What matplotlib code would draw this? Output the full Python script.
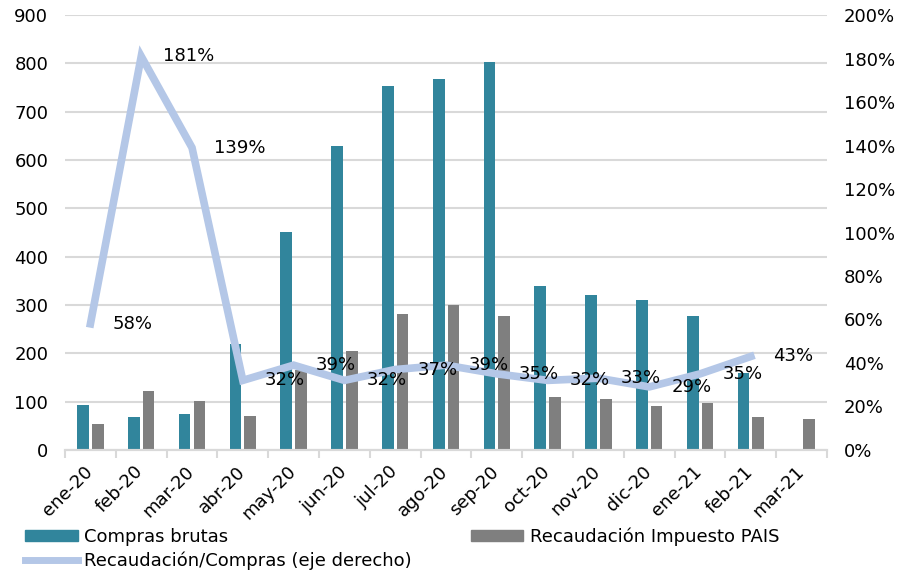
import numpy as np
import matplotlib
matplotlib.use('Agg')
import matplotlib.pyplot as plt
import matplotlib.transforms as mtransforms
from matplotlib.ticker import FuncFormatter, MultipleLocator
from matplotlib.patches import Patch
from matplotlib.lines import Line2D

plt.rcParams['font.family'] = ['DejaVu Sans']

months = ['ene-20', 'feb-20', 'mar-20', 'abr-20', 'may-20', 'jun-20', 'jul-20',
          'ago-20', 'sep-20', 'oct-20', 'nov-20', 'dic-20', 'ene-21', 'feb-21', 'mar-21']
compras = [93, 69, 74, 219, 452, 629, 753, 767, 802, 339, 320, 311, 277, 159, np.nan]
recaudacion = [54, 123, 102, 70, 165, 204, 281, 299, 277, 110, 106, 91, 97, 68, 64]
ratio = [58, 181, 139, 32, 39, 32, 37, 39, 35, 32, 33, 29, 35, 43, np.nan]

c_teal = '#31859C'
c_gray = '#7F7F7F'
c_line = '#B4C7E7'
c_grid = '#D9D9D9'
fs = 13

fig = plt.figure(figsize=(8.98, 5.78), dpi=100)
ax = fig.add_axes([0.0724, 0.2215, 0.8486, 0.7525])
ax2 = ax.twinx()

x = np.arange(len(months))
w = 0.23
ax.bar(x - 0.145, compras, width=w, color=c_teal, zorder=2)
ax.bar(x + 0.145, recaudacion, width=w, color=c_gray, zorder=2)

ax.set_ylim(0, 900)
ax.set_xlim(-0.5, len(months) - 0.5)
ax.yaxis.set_major_locator(MultipleLocator(100))
ax.grid(axis='y', color=c_grid, linewidth=1.5, zorder=0)
ax.set_axisbelow(True)

ax2.plot(x, ratio, color=c_line, linewidth=5.5, solid_joinstyle='miter', zorder=3)
ax2.set_ylim(0, 200)
ax2.yaxis.set_major_locator(MultipleLocator(20))
ax2.yaxis.set_major_formatter(FuncFormatter(lambda v, p: f'{v:.0f}%'))

# etiquetas de datos a la derecha de cada punto
for xi, r in zip(x, ratio):
    if np.isnan(r):
        continue
    ax2.annotate(f'{r:.0f}%', (xi, r), xytext=(16, 0), textcoords='offset points',
                 ha='left', va='center', fontsize=fs, color='black', zorder=4)

for a in (ax, ax2):
    for s in ['top', 'left', 'right']:
        a.spines[s].set_visible(False)
    a.spines['bottom'].set_color(c_grid)
    a.spines['bottom'].set_linewidth(1.5)

ax.tick_params(axis='y', length=0, labelsize=fs, pad=12)
ax2.tick_params(axis='y', length=0, labelsize=fs, pad=12)

ax.set_xticks(x)
ax.set_xticklabels(months, rotation=45, ha='right', rotation_mode='anchor', fontsize=fs)
ax.tick_params(axis='x', which='major', length=0, pad=9)
shift = mtransforms.ScaledTranslation(-7 / 100, 0, fig.dpi_scale_trans)
for lbl in ax.get_xticklabels():
    lbl.set_transform(lbl.get_transform() + shift)
ax.set_xticks(np.arange(-0.5, len(months)), minor=True)
ax.tick_params(axis='x', which='minor', length=6, width=1.5, color=c_grid)

handles = [Patch(color=c_teal), Line2D([], [], color=c_line, linewidth=5),
           Patch(color=c_gray)]
labels = ['Compras brutas', 'Recaudación/Compras (eje derecho)',
          'Recaudación Impuesto PAIS']
fig.legend(handles, labels, ncol=2, loc='upper left', bbox_to_anchor=(0.028, 0.088),
           frameon=False, fontsize=fs, handlelength=2.9, handleheight=0.6,
           handletextpad=0.35, columnspacing=3.3, labelspacing=0.35,
           borderaxespad=0, borderpad=0)

fig.savefig('out.png', dpi=100)
